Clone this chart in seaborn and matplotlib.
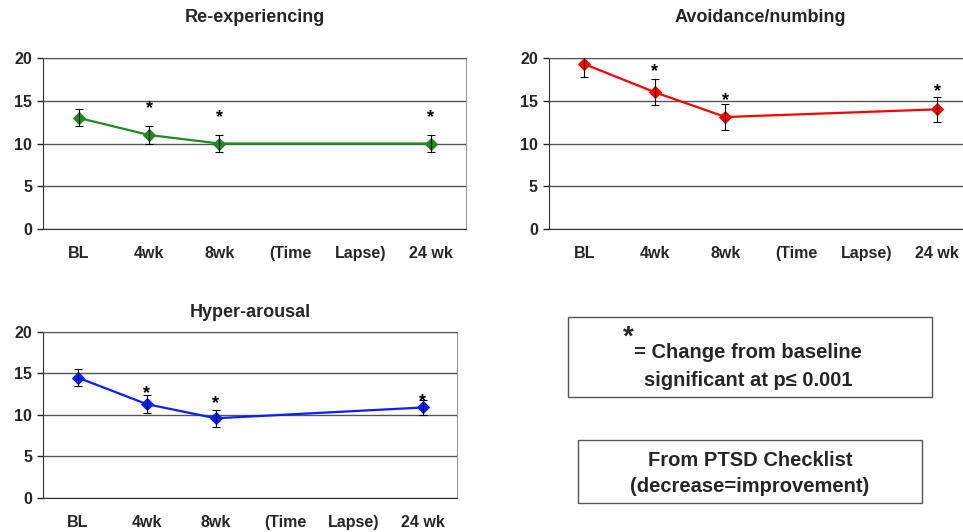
import matplotlib
matplotlib.use("Agg")
import matplotlib.pyplot as plt
import seaborn as sns
import pandas as pd

sns.set_style("white")
plt.rcParams['font.family'] = ['Liberation Sans', 'DejaVu Sans']
plt.rcParams['font.weight'] = 'bold'

# === categories on the x axis ===
categories = ["BL", "4wk", "8wk", "(Time", "Lapse)", "24 wk"]
time_points = ["BL", "4wk", "8wk", "24 wk"]

# === series values (PTSD checklist subscales) ===
reexp_mean = [13.0, 11.0, 10.0, 10.0]
reexp_err = [1.0, 1.0, 1.0, 1.0]
reexp_star = [None, 14.1, 13.0, 13.0]

avoid_mean = [19.3, 16.0, 13.1, 14.0]
avoid_err = [1.5, 1.5, 1.5, 1.5]
avoid_star = [None, 18.4, 15.0, 16.1]

hyper_mean = [14.5, 11.3, 9.6, 10.9]
hyper_err = [1.0, 1.1, 1.0, 0.95]
hyper_star = [None, 12.6, 11.4, 11.6]

panels = [
    ("Re-experiencing", reexp_mean, reexp_err, reexp_star, "#1f8a1f",
     [0.045, 0.5695, 0.439, 0.3214], 26),
    ("Avoidance/numbing", avoid_mean, avoid_err, avoid_star, "#ff0000",
     [0.570, 0.5695, 0.440, 0.3214], 26),
    ("Hyper-arousal", hyper_mean, hyper_err, hyper_star, "#0a1fff",
     [0.045, 0.064, 0.430, 0.312], 11),
]

fig = plt.figure(figsize=(9.63, 5.32), dpi=100)

for title, mean, err, star, color, rect, tpad in panels:
    ax = fig.add_axes(rect)
    df = pd.DataFrame({
        "time": time_points,
        "pos": [categories.index(t) for t in time_points],
        "score": mean,
        "err": err,
    })
    sns.lineplot(data=df, x="pos", y="score", ax=ax, color=color,
                 marker="D", markersize=6, markeredgecolor=color,
                 linewidth=1.6, zorder=3)
    ax.errorbar(df["pos"], df["score"], yerr=df["err"], fmt="none",
                ecolor="black", elinewidth=0.8, capsize=3, capthick=0.8,
                zorder=4)
    for p, s in zip(df["pos"], star):
        if s is not None:
            ax.text(p, s, "*", ha="center", va="center", fontsize=13,
                    fontweight="bold", color="black")

    ax.set_xlim(-0.5, len(categories) - 0.5)
    ax.set_ylim(0, 20)
    ax.set_yticks([0, 5, 10, 15, 20])
    ax.set_xticks(range(len(categories)))
    ax.set_xticklabels(categories)
    ax.set_xticks([i - 0.5 for i in range(len(categories) + 1)], minor=True)
    ax.tick_params(axis="x", which="major", length=0, pad=12, labelsize=11.5)
    ax.tick_params(axis="x", which="minor", length=4, width=1, direction="out",
                   color="black")
    ax.tick_params(axis="y", length=4, width=1, direction="out", pad=4,
                   labelsize=11.5, left=True)
    for lab in ax.get_xticklabels() + ax.get_yticklabels():
        lab.set_fontweight("bold")
    ax.yaxis.grid(True, color="#555555", linewidth=1)
    ax.set_axisbelow(True)
    ax.set_xlabel("")
    ax.set_ylabel("")
    ax.spines["left"].set_color("#333333")
    ax.spines["bottom"].set_color("#333333")
    ax.spines["top"].set_color("#555555")
    ax.spines["right"].set_color("#999999")
    ax.set_title(title, fontsize=13, fontweight="bold", pad=tpad)

# note boxes
fig.patches.append(plt.Rectangle((568 / 963, 1 - 397 / 532), 364 / 963, 80 / 532,
                                 transform=fig.transFigure, fill=False,
                                 edgecolor="#555555", linewidth=1))
fig.text(628 / 963, 1 - 338 / 532, "*", fontsize=20, fontweight="bold",
         ha="center", va="center")
fig.text(748 / 963, 1 - 353 / 532, "= Change from baseline", fontsize=14.5,
         fontweight="bold", ha="center", va="center")
fig.text(748 / 963, 1 - 381 / 532, "significant at p\u2264 0.001", fontsize=14.5,
         fontweight="bold", ha="center", va="center")

fig.patches.append(plt.Rectangle((578 / 963, 1 - 503 / 532), 344 / 963, 63 / 532,
                                 transform=fig.transFigure, fill=False,
                                 edgecolor="#555555", linewidth=1))
fig.text(750 / 963, 1 - 460 / 532, "From PTSD Checklist", fontsize=14.5,
         fontweight="bold", ha="center", va="center")
fig.text(750 / 963, 1 - 486 / 532, "(decrease=improvement)", fontsize=14.5,
         fontweight="bold", ha="center", va="center")

fig.savefig("out.png", dpi=100)
